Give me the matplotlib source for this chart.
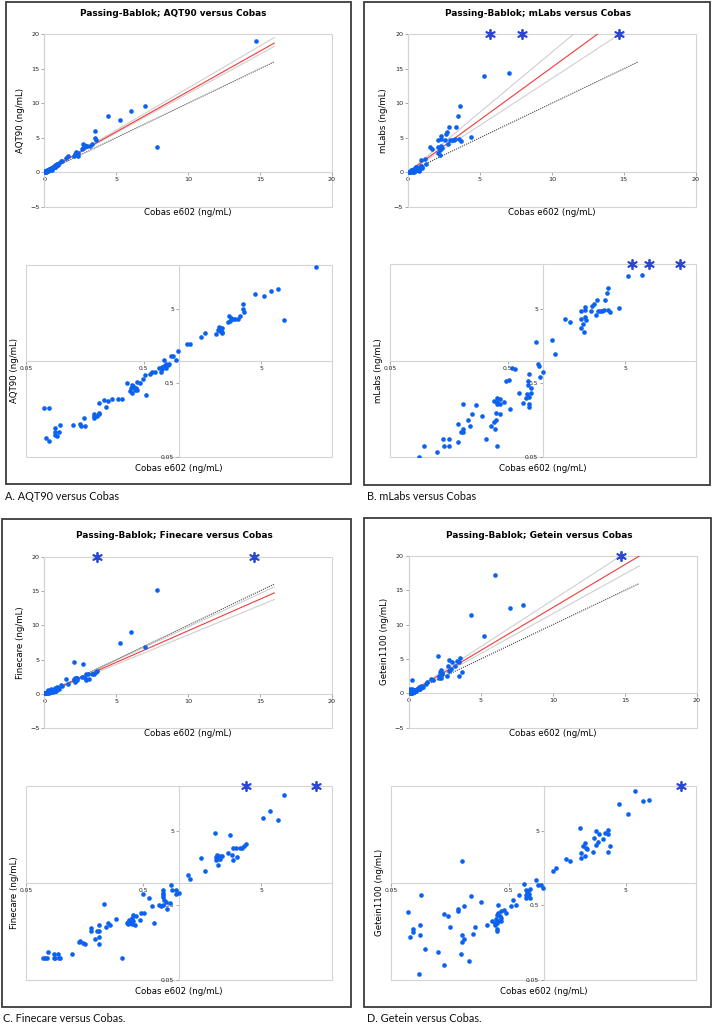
import matplotlib.pyplot as plt
from matplotlib.patches import Rectangle
from matplotlib.ticker import NullLocator

W, H = 715, 1025

# ---- data (ng/mL) ----
aqt_x = [14.7, 4.4, 5.25, 6.0, 7.0, 7.85, 3.5, 3.5, 3.6, 2.67, 2.76, 2.89, 3.0, 3.16, 3.31,
         2.62, 2.70, 2.18, 2.23, 2.27, 2.34, 2.15, 2.23, 2.30, 2.08, 2.33, 1.54, 1.67, 1.18,
         1.25, 0.99, 0.86, 0.89, 0.94, 0.75, 0.77, 0.80, 0.83, 0.74, 0.71, 0.68, 0.76, 0.72,
         0.70, 0.77, 0.62, 0.59, 0.57, 0.51, 0.49, 0.47, 0.44, 0.36, 0.40, 0.39, 0.41, 0.42,
         0.38, 0.40, 0.43, 0.44, 0.41, 0.52, 0.33, 0.30, 0.27, 0.25, 0.23, 0.24, 0.21, 0.21,
         0.21, 0.20, 0.19, 0.19, 0.19, 0.157, 0.16, 0.148, 0.143, 0.126, 0.098, 0.088, 0.088,
         0.095, 0.089, 0.092, 0.074, 0.078, 0.071, 0.079]
aqt_y = [19.0, 8.1, 7.6, 8.85, 9.6, 3.65, 5.95, 5.0, 4.6, 4.09, 3.88, 3.76, 3.76, 3.76, 4.09,
         3.39, 3.46, 2.89, 2.80, 2.74, 2.80, 2.60, 2.52, 2.47, 2.34, 2.42, 2.11, 2.42, 1.69,
         1.69, 1.36, 1.16, 1.16, 1.04, 1.03, 0.91, 0.88, 0.91, 0.86, 0.83, 0.80, 0.82, 0.78,
         0.71, 0.81, 0.70, 0.70, 0.66, 0.65, 0.57, 0.50, 0.52, 0.51, 0.47, 0.43, 0.44, 0.41,
         0.39, 0.37, 0.43, 0.40, 0.46, 0.35, 0.31, 0.31, 0.31, 0.29, 0.30, 0.24, 0.27, 0.20,
         0.19, 0.18, 0.19, 0.18, 0.17, 0.17, 0.133, 0.133, 0.14, 0.134, 0.134, 0.122, 0.11,
         0.11, 0.098, 0.095, 0.09, 0.083, 0.23, 0.23]
aqt_over = []

mlabs_x = [5.25, 7.0, 3.6, 3.5, 3.34, 4.4, 3.30, 3.57, 3.69, 3.19, 3.05, 2.93, 2.80, 2.86, 2.71,
           2.63, 2.12, 2.29, 2.29, 2.57, 2.12, 2.29, 2.33, 2.2, 2.12, 2.23, 1.55, 1.69, 1.2,
           0.87, 1.26,
           0.90, 0.92, 1.0, 0.94, 0.76, 0.75, 0.75, 0.79, 0.79, 0.73, 0.76, 0.71, 0.68, 0.76,
           0.76, 0.62, 0.55, 0.58, 0.48, 0.51, 0.52, 0.47, 0.43, 0.41, 0.38, 0.43, 0.41, 0.41,
           0.43, 0.40, 0.40, 0.38, 0.36, 0.39, 0.33, 0.41, 0.30, 0.27, 0.25, 0.23, 0.24, 0.21,
           0.21, 0.19, 0.20, 0.21, 0.19, 0.14, 0.16, 0.144, 0.16, 0.125, 0.097, 0.088]
mlabs_y = [14.0, 14.4, 9.6, 8.2, 6.5, 5.1, 4.85, 4.76, 4.47, 4.7, 4.7, 4.61, 4.16, 6.6, 5.85,
           5.5, 4.6, 4.76, 5.27, 4.6, 3.64, 3.83, 3.49, 3.15, 2.75, 2.45, 3.64, 3.31, 1.88,
           1.78, 1.24,
           0.91, 0.84, 0.70, 0.60, 0.67, 0.54, 0.47, 0.43, 0.37, 0.36, 0.32, 0.31, 0.27, 0.26,
           0.24, 0.37, 0.80, 0.77, 0.53, 0.55, 0.22, 0.28, 0.30, 0.28, 0.29, 0.26, 0.31, 0.26,
           0.19, 0.20, 0.16, 0.15, 0.13, 0.12, 0.089, 0.070, 0.18, 0.25, 0.19, 0.16, 0.13, 0.12,
           0.26, 0.14, 0.11, 0.11, 0.081, 0.089, 0.089, 0.070, 0.070, 0.059, 0.070, 0.051]
mlabs_over = [5.7, 7.9, 14.7]

fine_x = [7.85, 6.0, 5.25, 7.0, 2.05, 2.7, 3.70, 3.6, 3.47, 3.31, 3.04, 2.87, 2.62, 2.81, 2.90,
          3.14, 1.54, 1.68, 2.12, 2.23, 2.31, 2.09, 2.16, 2.26, 2.09, 2.16, 1.19, 1.25,
          0.85, 0.88, 0.94, 0.95, 1.0, 0.73, 0.73, 0.73, 0.74, 0.75, 0.77, 0.74, 0.71, 0.68,
          0.80, 0.84, 0.56, 0.50, 0.59, 0.51, 0.62, 0.48, 0.41, 0.43, 0.40, 0.38, 0.40, 0.41,
          0.37, 0.39, 0.40, 0.42, 0.37, 0.36, 0.47, 0.29, 0.26, 0.25, 0.24, 0.23, 0.21, 0.18,
          0.18, 0.20, 0.21, 0.21, 0.195, 0.21, 0.158, 0.154, 0.143, 0.141, 0.124, 0.33, 0.070,
          0.073, 0.076, 0.077, 0.087, 0.087, 0.089, 0.094, 0.095, 0.098]
fine_y = [15.1, 9.1, 7.5, 6.9, 4.65, 4.4, 3.36, 3.16, 2.91, 2.91, 2.91, 2.91, 2.52, 2.39, 2.05,
          2.23, 2.16, 1.43, 2.37, 2.32, 2.28, 2.23, 2.10, 2.10, 2.01, 1.76, 1.28, 1.13,
          0.95, 0.80, 0.81, 0.72, 0.73, 0.80, 0.73, 0.68, 0.65, 0.59, 0.55, 0.50, 0.49, 0.51,
          0.45, 0.54, 0.62, 0.72, 0.49, 0.39, 0.29, 0.40, 0.37, 0.36, 0.34, 0.32, 0.32, 0.31,
          0.30, 0.29, 0.28, 0.27, 0.28, 0.29, 0.32, 0.33, 0.27, 0.29, 0.26, 0.52, 0.27, 0.25,
          0.225, 0.225, 0.225, 0.19, 0.18, 0.15, 0.15, 0.157, 0.167, 0.16, 0.111, 0.099, 0.10,
          0.10, 0.10, 0.119, 0.111, 0.10, 0.10, 0.111, 0.10, 0.10]
fine_over = [3.7, 14.6]

getein_x = [5.97, 7.9, 7.0, 4.35, 5.2, 2.05, 3.56, 2.79, 2.98, 3.35, 3.5, 2.70, 3.18, 2.90, 2.81,
            3.70, 3.51, 2.63, 2.24, 2.16, 2.28, 2.34, 2.08, 2.24, 2.08, 1.54, 1.67, 1.26, 1.19,
            0.86, 0.68, 0.89, 0.94, 0.99, 0.76, 0.74, 0.72, 0.71, 0.74, 0.75, 0.70, 0.71, 0.76,
            0.61, 0.55, 0.58, 0.52, 0.46, 0.48, 0.41, 0.43, 0.41, 0.40, 0.42, 0.43, 0.39, 0.41,
            0.40, 0.38, 0.40, 0.40, 0.38, 0.43, 0.36, 0.33, 0.29, 0.24, 0.21, 0.185, 0.185, 0.14,
            0.152, 0.158, 0.20, 0.20, 0.21, 0.25, 0.26, 0.195, 0.23, 0.142, 0.124, 0.096, 0.087,
            0.090, 0.070, 0.077, 0.077, 0.072, 0.088, 0.088, 0.20]
getein_y = [17.3, 12.8, 12.4, 11.4, 8.3, 5.5, 5.13, 4.92, 4.58, 4.67, 4.58, 4.0, 3.93, 3.5, 3.23,
            3.1, 2.6, 2.6, 3.43, 3.1, 2.91, 2.89, 2.52, 2.28, 2.18, 2.1, 1.97, 1.6, 1.43,
            1.09, 0.98, 0.95, 0.95, 0.86, 0.83, 0.77, 0.73, 0.69, 0.66, 0.72, 0.80, 0.62, 0.62,
            0.68, 0.60, 0.50, 0.49, 0.44, 0.40, 0.51, 0.42, 0.40, 0.37, 0.36, 0.34, 0.33, 0.31,
            0.29, 0.29, 0.24, 0.225, 0.27, 0.31, 0.31, 0.27, 0.56, 0.66, 0.49, 0.45, 0.42, 0.38,
            0.36, 0.26, 0.20, 0.16, 0.18, 0.21, 0.26, 0.11, 0.091, 0.080, 0.119, 0.129, 0.060,
            0.68, 0.41, 0.24, 0.22, 0.19, 0.27, 0.20, 1.95]
getein_over = [14.7]

# Passing-Bablok slopes: lower CI, estimate, upper CI
aqt_fit = [1.14, 1.17, 1.22]
mlabs_fit = [1.36, 1.52, 1.74]
fine_fit = [0.86, 0.92, 0.975]
getein_fit = [1.16, 1.25, 1.36]
fit_x = [0, 16]

lin_ticks_x = [0, 5, 10, 15, 20]
lin_ticks_y = [-5, 0, 5, 10, 15, 20]
log_ticks = [0.05, 0.5, 5]
log_labels = ["0.05", "0.5", "5"]

DOT = "#0b62f0"
STAR = "#2a48d4"
GRID = "#d4d4d4"

panels = [
    dict(x=aqt_x, y=aqt_y, over=aqt_over, fit=aqt_fit, name="AQT90",
         ylab="AQT90 (ng/mL)", cap="A. AQT90 versus Cobas",
         top=(44.3, 34.3, 331.7, 206.7), bot=(26, 265, 332, 457),
         frame=(6, 2, 351, 484), title_xy=(173, 14), cap_xy=(5, 497)),
    dict(x=mlabs_x, y=mlabs_y, over=mlabs_over, fit=mlabs_fit, name="mLabs",
         ylab="mLabs (ng/mL)", cap="B. mLabs versus Cobas",
         top=(408, 34.3, 695.7, 206.7), bot=(390, 264, 696, 457.3),
         frame=(364, 2, 710, 485), title_xy=(538, 14), cap_xy=(367, 497)),
    dict(x=fine_x, y=fine_y, over=fine_over, fit=fine_fit, name="Finecare",
         ylab="Finecare (ng/mL)", cap="C. Finecare versus Cobas.",
         top=(44.3, 556.7, 331.7, 728.3), bot=(26, 786, 331.7, 980),
         frame=(2, 519, 351, 1007), title_xy=(174, 536), cap_xy=(3, 1018)),
    dict(x=getein_x, y=getein_y, over=getein_over, fit=getein_fit, name="Getein",
         ylab="Getein1100 (ng/mL)", cap="D. Getein versus Cobas.",
         top=(408.7, 556, 697, 727.7), bot=(391.3, 786, 696.3, 980),
         frame=(364, 518, 711, 1007), title_xy=(539, 536), cap_xy=(367, 1018)),
]


def fig_rect(l, t, r, b):
    return [l / W, 1 - b / H, (r - l) / W, (b - t) / H]


def style_axes(ax, labelsize):
    for s in ["top", "right"]:
        ax.spines[s].set_visible(False)
    for s in ["left", "bottom"]:
        ax.spines[s].set_color(GRID)
        ax.spines[s].set_linewidth(0.8)
    ax.add_patch(Rectangle((0, 0), 1, 1, transform=ax.transAxes, fill=False,
                           ec=GRID, lw=0.8, clip_on=False))
    ax.tick_params(labelsize=labelsize, length=2, width=0.6, color="#9a9a9a",
                   pad=1.5, labelcolor="#222222")


fig = plt.figure(figsize=(W / 100, H / 100), dpi=100)

for p in panels:
    l, t, r, b = p["frame"]
    fig.add_artist(Rectangle((l / W, 1 - b / H), (r - l) / W, (b - t) / H,
                             transform=fig.transFigure, fill=False, ec="#3c3c3c", lw=1.3))
    fig.text(p["cap_xy"][0] / W, 1 - p["cap_xy"][1] / H, p["cap"], fontsize=7.8,
             family="Lato", ha="left", va="center", color="#111111")
    fig.text(p["title_xy"][0] / W, 1 - p["title_xy"][1] / H,
             "Passing-Bablok; " + p["name"] + " versus Cobas",
             fontsize=6.4, fontweight="bold", ha="center", va="center")

    # linear scale
    ax = fig.add_axes(fig_rect(*p["top"]))
    ax.set_xlim(0, 20)
    ax.set_ylim(-5, 20)
    lo, mid, hi = p["fit"]
    ax.plot(fit_x, [lo * v for v in fit_x], color="#cfcfcf", lw=0.8)
    ax.plot(fit_x, [hi * v for v in fit_x], color="#cfcfcf", lw=0.8)
    ax.plot(fit_x, fit_x, color="#444444", lw=0.8, ls=(0, (1, 1)))
    ax.plot(fit_x, [mid * v for v in fit_x], color="#f23a3a", lw=0.8)
    ax.scatter(p["x"], p["y"], s=11, color=DOT, lw=0, zorder=3)
    if p["over"]:
        ax.scatter(p["over"], [ax.get_ylim()[1]] * len(p["over"]), marker=(6, 2, 0),
                   s=45, color=STAR, lw=1.3, zorder=4, clip_on=False)
    ax.spines["left"].set_position(("data", 0))
    ax.spines["bottom"].set_position(("data", 0))
    ax.set_xticks(lin_ticks_x)
    ax.set_yticks(lin_ticks_y)
    style_axes(ax, 4.6)
    ax.set_xlabel("Cobas e602 (ng/mL)", fontsize=6.2)
    ax.set_ylabel(p["ylab"], fontsize=6.2)
    ax.xaxis.set_label_coords(0.5, -0.005)
    ax.yaxis.set_label_coords(-0.068, 0.5)

    # log scale
    ax2 = fig.add_axes(fig_rect(*p["bot"]))
    ax2.set_xscale("log")
    ax2.set_yscale("log")
    ax2.set_xlim(0.05, 20)
    ax2.set_ylim(0.05, 20)
    ax2.scatter(p["x"], p["y"], s=11, color=DOT, lw=0, zorder=3)
    if p["over"]:
        ax2.scatter(p["over"], [ax2.get_ylim()[1]] * len(p["over"]), marker=(6, 2, 0),
                    s=45, color=STAR, lw=1.3, zorder=4, clip_on=False)
    ax2.spines["left"].set_position(("data", 1))
    ax2.spines["bottom"].set_position(("data", 1))
    ax2.set_xticks(log_ticks, log_labels)
    ax2.set_yticks(log_ticks, log_labels)
    ax2.xaxis.set_minor_locator(NullLocator())
    ax2.yaxis.set_minor_locator(NullLocator())
    style_axes(ax2, 4.3)
    ax2.set_xlabel("Cobas e602 (ng/mL)", fontsize=6.2)
    ax2.set_ylabel(p["ylab"], fontsize=6.2)
    ax2.xaxis.set_label_coords(0.5, -0.035)
    ax2.yaxis.set_label_coords(-0.023, 0.45)

fig.savefig("out.png", dpi=100, facecolor="white")
